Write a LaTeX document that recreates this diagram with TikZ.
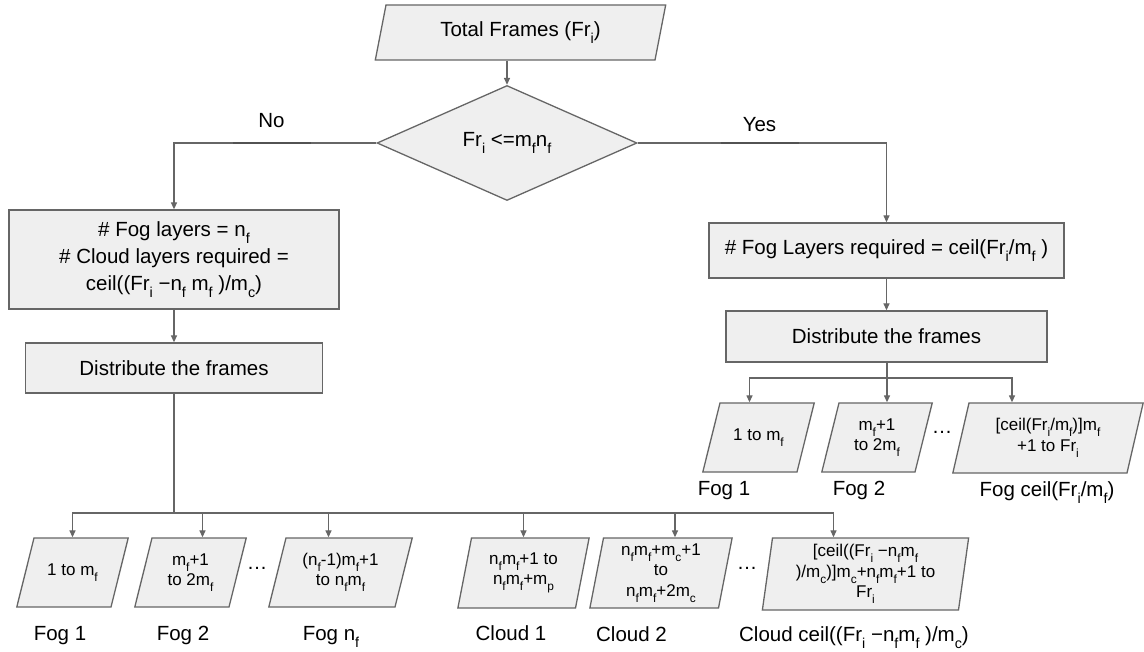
\documentclass[tikz,border=0pt]{standalone}
\usepackage{fontspec}
\setmainfont{Liberation Sans}
\usetikzlibrary{shapes.geometric,arrows.meta,calc}
\definecolor{edgegray}{HTML}{666666}
\definecolor{boxgray}{HTML}{EFEFEF}
\newcommand{\dn}[1]{\raisebox{-0.35em}{\scalebox{0.7}{#1}}}

\begin{document}
\begin{tikzpicture}[x=1pt,y=-1pt,>={Triangle[length=7pt,width=6pt]}]

    % Styles
    \tikzset{
        box/.style={rectangle, draw=edgegray, fill=boxgray, line width=1.3pt, inner sep=0pt, align=center, font=\fontsize{20.5}{27}\selectfont},
        % para={left angle}{right angle}{body width}{height}
        para/.style n args={4}{trapezium, trapezium left angle=#1, trapezium right angle=#2,
            draw=edgegray, fill=boxgray, line width=1.3pt, inner sep=0pt, font=\fontsize{17}{20.5}\selectfont,
            execute at begin node={\begin{minipage}[c][#4][c]{#3}\centering},
            execute at end node={\end{minipage}}},
        fogpara/.style 2 args={para={76}{104}{#1}{#2}},
        cloudpara/.style 2 args={para={79}{101}{#1}{#2}},
        decision/.style={diamond, draw=edgegray, fill=boxgray, line width=1.3pt, inner sep=0pt, minimum width=260pt, minimum height=115pt, font=\fontsize{20.5}{24}\selectfont},
        lbl/.style={anchor=base, inner sep=0pt, font=\fontsize{20.5}{24}\selectfont},
        link/.style={draw=edgegray, line width=1.3pt},
        bar/.style={draw=edgegray!80!black, line width=2.4pt}
    }

    \useasboundingbox (0,0) rectangle (1144,652);

    % Start and decision
    \node[para={79}{101}{269pt}{55pt}, font=\fontsize{20.5}{24}\selectfont] (tf) at (520.5,32.5) {Total Frames (Fr\dn{i})};
    \node[decision] (dec) at (507,143) {Fr\dn{i} <=m\dn{f}n\dn{f}};

    % No branch (left)
    \node[box, minimum width=330pt, minimum height=99pt] (fogA) at (174,259.5)
        {\# Fog layers = n\dn{f}\\ \# Cloud layers required =\\ ceil((Fr\dn{i} −n\dn{f} m\dn{f} )/m\dn{c})};
    \node[box, minimum width=297pt, minimum height=50pt] (distL) at (174,368) {Distribute the frames};

    % Yes branch (right)
    \node[box, minimum width=355pt, minimum height=55pt] (fogB) at (886.5,250.5)
        {\# Fog Layers required = ceil(Fr\dn{i}/m\dn{f} )};
    \node[box, minimum width=321pt, minimum height=51pt] (distR) at (886.5,336.5) {Distribute the frames};

    % Frame ranges, left
    \node[fogpara={77pt}{69pt}] (f1) at (72.5,572.5) {1 to m\dn{f}};
    \node[fogpara={77pt}{69pt}] (f2) at (190.5,572.5) {m\dn{f}+1\\to 2m\dn{f}};
    \node[fogpara={109pt}{69pt}] (f3) at (340.5,572.5) {(n\dn{f}-1)m\dn{f}+1\\to n\dn{f}m\dn{f}};
    \node[cloudpara={104pt}{70pt}] (c1) at (523.5,573) {n\dn{f}m\dn{f}+1 to\\n\dn{f}m\dn{f}+m\dn{p}};
    \node[cloudpara={115pt}{70pt}] (c2) at (661,573) {n\dn{f}m\dn{f}+m\dn{c}+1\\to\\n\dn{f}m\dn{f}+2m\dn{c}};
    \node[para={82}{98}{186pt}{72pt}] (c3) at (865.5,574)
        {[ceil((Fr\dn{i} −n\dn{f}m\dn{f}\\)/m\dn{c})]m\dn{c}+n\dn{f}m\dn{f}+1 to\\Fr\dn{i}};

    % Frame ranges, right
    \node[fogpara={77pt}{69pt}] (g1) at (758.5,437.5) {1 to m\dn{f}};
    \node[fogpara={76pt}{69pt}] (g2) at (877,437.5) {m\dn{f}+1\\to 2m\dn{f}};
    \node[para={77}{103}{158pt}{70pt}] (g3) at (1048,438)
        {[ceil(Fr\dn{i}/m\dn{f})]m\dn{f}\\+1 to Fr\dn{i}};

    % Dots
    \node[lbl] (dotsL) at (257,569) {…};
    \node[lbl] (dotsC) at (747,569) {…};
    \node[lbl] (dotsR) at (942,433) {…};

    % Layer names
    \node[lbl] (nf1) at (60,640) {Fog 1};
    \node[lbl] (nf2) at (183,640) {Fog 2};
    \node[lbl] (nf3) at (331,640) {Fog n\dn{f}};
    \node[lbl] (nc1) at (511,640) {Cloud 1};
    \node[lbl] (nc2) at (631.5,641) {Cloud 2};
    \node[lbl] (nc3) at (854,641) {Cloud ceil((Fr\dn{i} −n\dn{f}m\dn{f} )/m\dn{c})};
    \node[lbl] (ng1) at (724,495) {Fog 1};
    \node[lbl] (ng2) at (859,495) {Fog 2};
    \node[lbl] (ng3) at (1047,496) {Fog ceil(Fr\dn{i}/m\dn{f})};

    % Branch labels
    \node[lbl] (noL) at (271.5,128) {No};
    \node[lbl] (yesL) at (759.5,132) {Yes};

    % Connectors
    \draw[link,->] (tf.south -| dec.north) -- (dec.north);
    \draw[link,->] (dec.west) -| (fogA.north);
    \draw[link,->] (dec.east) -| (fogB.north);
    \draw[bar] ($(dec.west -| noL)+(-39,0)$) -- ++(78,0);
    \draw[bar] ($(dec.east -| yesL)+(-39,0)$) -- ++(78,0);
    \draw[link,->] (fogA.south) -- (distL.north);
    \draw[link,->] (fogB.south) -- (distR.north);

    \coordinate (busL) at (174,513);
    \coordinate (busR) at (887,378);
    \draw[link] (distL.south) -- (busL);
    \draw[link] (distR.south -| busR) -- (busR);
    \foreach \n/\dx in {f1/0, f2/12, f3/-12, c1/0, c2/14, c3/-32}
        \draw[link,->] (busL) -| ($(\n.center |- \n.north)+(\dx,0)$);
    \foreach \n/\dx in {g1/-9, g2/10, g3/-36}
        \draw[link,->] (busR) -| ($(\n.center |- \n.north)+(\dx,0)$);

\end{tikzpicture}
\end{document}
